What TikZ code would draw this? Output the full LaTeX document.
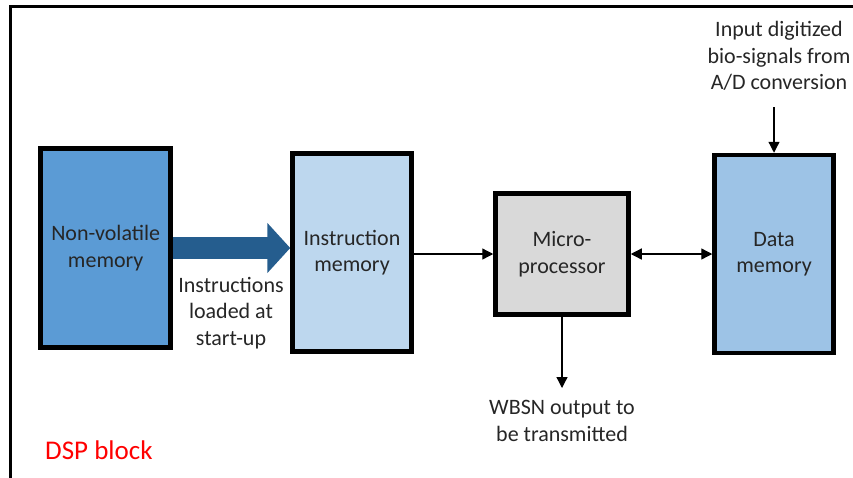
\documentclass[tikz,border=0pt]{standalone}
\usepackage{fontspec}
\setmainfont{Carlito}
\usepackage{tikz}
\usetikzlibrary{arrows.meta}

\definecolor{nvblue}{HTML}{5B9BD5}
\definecolor{imblue}{HTML}{BDD7EE}
\definecolor{dmblue}{HTML}{9DC3E6}
\definecolor{mpgray}{HTML}{D9D9D9}
\definecolor{bigarrow}{HTML}{255D8E}
\definecolor{txtgray}{HTML}{262626}

\begin{document}
\begin{tikzpicture}[x=1pt, y=-1pt]
    \tikzstyle{block} = [rectangle, draw=black, line width=4.5pt, inner sep=0pt, align=center,
                         text=txtgray, font=\fontsize{22}{26.5}\selectfont]
    \tikzstyle{label} = [align=center, inner sep=0pt, text=txtgray, font=\fontsize{22}{26.5}\selectfont]
    \tikzstyle{wire} = [line width=1.3pt, -{Triangle[length=11pt, width=11pt]}]

    \useasboundingbox (0,0) rectangle (853,477);
    \clip (0,0) rectangle (853,477);

    % Outer frame
    \draw[line width=3pt] (10,520) -- (10,6) -- (900,6);

    % Blocks
    \node[block, fill=nvblue, minimum width=130pt, minimum height=199pt] (nvm) at (105.7,248) {Non-volatile\\memory};
    \node[block, fill=imblue, minimum width=119pt, minimum height=198pt] (im) at (352,252.5) {Instruction\\memory};
    \node[block, fill=mpgray, minimum width=133pt, minimum height=121pt] (mp) at (562,254) {Micro-\\processor};
    \node[block, fill=dmblue, minimum width=119pt, minimum height=198pt] (dm) at (774,254) {Data\\memory};

    % Labels
    \node[label] (instr) at (231,313) {Instructions\\loaded at\\start-up};
    \node[label] (wbsn) at (562,421) {WBSN output to\\be transmitted};
    \node[label] (adc) at (779,56) {Input digitized\\bio-signals from\\A/D conversion};
    \node[anchor=west, inner sep=0pt, text=red, font=\fontsize{27}{31}\selectfont] (dsp) at (45,450) {DSP block};

    % Loading arrow
    \draw[bigarrow, line width=22pt, -{Triangle[length=23pt, width=49pt]}]
        (nvm.east) -- (nvm.east -| im.west);

    % Data paths
    \coordinate (imout) at (im.east |- mp.west);
    \coordinate (adcin) at (dm.north |- 0,107);
    \coordinate (mpout) at (mp.south |- 0,388);
    \draw[wire] (imout) -- (mp.west);
    \draw[line width=1.3pt, {Triangle[length=11pt, width=11pt]}-{Triangle[length=11pt, width=11pt]}]
        (mp.east) -- (mp.east -| dm.west);
    \draw[wire] (mp.south) -- (mpout);
    \draw[wire] (adcin) -- (dm.north);
\end{tikzpicture}
\end{document}
